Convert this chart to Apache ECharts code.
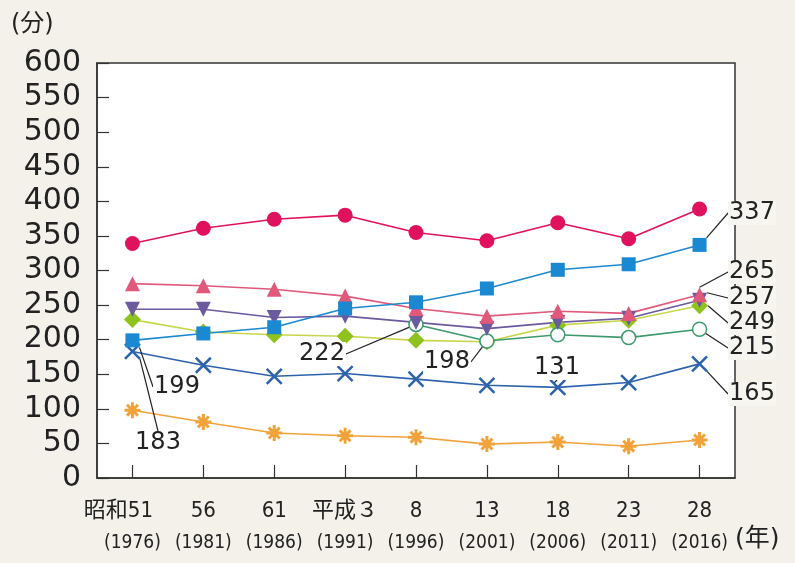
<!DOCTYPE html>
<html>
<head>
<meta charset="utf-8">
<script src="https://cdn.jsdelivr.net/npm/echarts@6/dist/echarts.min.js"></script>
<style>
  html, body { margin: 0; padding: 0; background: #f4f1ea; }
  #chart { width: 795px; height: 563px; }
</style>
</head>
<body>
<div id="chart"></div>
<script>
// 年次（和暦 + 西暦）
var eraLabels = ['昭和51', '56', '61', '平成３', '8', '13', '18', '23', '28'];
var yearLabels = ['1976', '1981', '1986', '1991', '1996', '2001', '2006', '2011', '2016'];

// 各系列（分）
var circleData   = [339, 361, 374, 380, 355, 343, 369, 346, 389];
var squareData   = [199, 209, 218, 245, 254, 274, 301, 309, 337];
var triData      = [281, 278, 273, 263, 245, 234, 241, 238, 265];
var invTriData   = [244, 244, 232, 234, 225, 216, 225, 231, 257];
var diamondData  = [229, 211, 207, 205, 199, 197, 221, 228, 249];
var openCircData = [null, null, null, null, 222, 198, 207, 203, 215];
var crossData    = [183, 163, 147, 151, 143, 134, 131, 138, 165];
var starData     = [98, 81, 65, 61, 59, 49, 52, 46, 55];

var yTicks = [0, 600, 50];

var FONT = '"DejaVu Sans", "Noto Sans CJK JP", sans-serif';
var COND = '"DejaVu Sans Condensed", "DejaVu Sans", "Noto Sans CJK JP", sans-serif';

var X_PATH = 'path://M0,0L10,10M10,0L0,10';
var STAR_PATH = 'path://M5,0L5,10M0,5L10,5M1.6,1.6L8.4,8.4M8.4,1.6L1.6,8.4';

// 注記ラベル（データ番号 -> 位置）
function annotate(values, idxList, bg) {
  return values.map(function (v, i) {
    if (idxList.indexOf(i) < 0) return v;
    return { value: v, label: { show: true, backgroundColor: i === 8 ? '#f7f5f0' : '#ffffff' } };
  });
}
function layoutFrom(pos) {
  return function (p) {
    var q = pos[p.dataIndex];
    if (!q) return {};
    return { x: q[0], y: q[1], align: 'center', verticalAlign: 'middle' };
  };
}

var labelStyle = {
  show: false,
  formatter: '{c}',
  color: '#222',
  fontSize: 24,
  fontFamily: FONT,
  padding: [0, 1]
};
var labelLineStyle = { show: true, lineStyle: { color: '#222', width: 1.2 } };

function mkSeries(name, data, color, lineColor, symbol, size, extra) {
  var s = {
    name: name,
    type: 'line',
    data: data,
    symbol: symbol,
    symbolSize: size,
    showAllSymbol: true,
    lineStyle: { color: lineColor, width: 1.6 },
    itemStyle: { color: color },
    label: labelStyle,
    labelLine: labelLineStyle,
    emphasis: { disabled: true },
    z: 2
  };
  for (var k in extra) s[k] = extra[k];
  return s;
}

var chart = echarts.init(document.getElementById('chart'));
chart.setOption({
  backgroundColor: '#f4f1ea',
  animation: false,
  grid: {
    left: 97, right: 60, top: 63, bottom: 85,
    show: true, backgroundColor: '#ffffff', borderColor: '#333', borderWidth: 1.5
  },
  graphic: [
    { type: 'text', left: 11, top: 13, style: { text: '(分)', font: '24px ' + FONT, fill: '#222' } },
    { type: 'text', left: 735, top: 527, style: { text: '(年)', font: '25px ' + FONT, fill: '#222' } }
  ],
  xAxis: {
    type: 'category',
    data: eraLabels.map(function (e, i) { return e + '\n' + yearLabels[i]; }),
    boundaryGap: true,
    axisLine: { lineStyle: { color: '#333', width: 1.5 } },
    axisTick: { show: true, inside: true, alignWithLabel: true, length: 13, lineStyle: { color: '#333', width: 1.2 } },
    axisLabel: {
      interval: 0,
      margin: 16,
      formatter: function (v, i) {
        var parts = v.split('\n');
        return '{' + (i === 0 ? 'c' : 'a') + '|' + parts[0] + '}\n{b|(' + parts[1] + ')}';
      },
      rich: {
        a: { fontSize: 22, fontFamily: COND, color: '#222', lineHeight: 34 },
        c: { fontSize: 22, fontFamily: COND, color: '#222', lineHeight: 34, padding: [0, 28, 0, 0] },
        b: { fontSize: 19, fontFamily: COND, color: '#222', lineHeight: 30 }
      }
    }
  },
  yAxis: {
    type: 'value',
    min: yTicks[0], max: yTicks[1], interval: yTicks[2],
    axisLine: { show: true, lineStyle: { color: '#333', width: 1.5 } },
    axisTick: { show: true, inside: true, length: 12, lineStyle: { color: '#333', width: 1.2 } },
    splitLine: { show: false },
    axisLabel: { fontSize: 30, fontFamily: FONT, color: '#222', margin: 16 }
  },
  series: [
    mkSeries('star', starData, '#f2a23a', '#f2a23a', STAR_PATH, 16,
      { itemStyle: { color: 'none', borderColor: '#f2a23a', borderWidth: 3 } }),
    mkSeries('cross', annotate(crossData, [0, 6, 8]), '#2c63ab', '#2c63ab', X_PATH, 15,
      { itemStyle: { color: 'none', borderColor: '#2c63ab', borderWidth: 2.5 },
        labelLayout: layoutFrom({ 0: [158, 443], 6: [557, 368], 8: [752, 394] }) }),
    mkSeries('diamond', annotate(diamondData, [8]), '#8dc21f', '#c8d64a', 'diamond', 17,
      { labelLayout: layoutFrom({ 8: [752, 323] }) }),
    mkSeries('openCircle', annotate(openCircData, [4, 5, 8]), '#ffffff', '#3d9a6c', 'circle', 14,
      { itemStyle: { color: '#ffffff', borderColor: '#3d9a6c', borderWidth: 1.5 },
        labelLayout: layoutFrom({ 4: [322, 354], 5: [447, 362], 8: [752, 348] }) }),
    mkSeries('invTri', annotate(invTriData, [8]), '#6b5a9e', '#6b5a9e', 'triangle', 15,
      { symbolRotate: 180, labelLayout: layoutFrom({ 8: [752, 298] }) }),
    mkSeries('tri', annotate(triData, [8]), '#e0587a', '#e0587a', 'triangle', 15,
      { labelLayout: layoutFrom({ 8: [752, 272] }) }),
    mkSeries('square', annotate(squareData, [0, 8]), '#1b88d2', '#1b88d2', 'rect', 14,
      { labelLayout: layoutFrom({ 0: [177, 387], 8: [752, 213] }) }),
    mkSeries('circle', circleData, '#e0125e', '#e0125e', 'circle', 15, {})
  ]
});
</script>
</body>
</html>
